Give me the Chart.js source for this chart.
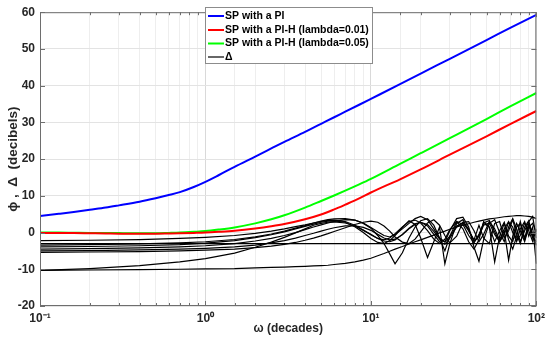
<!DOCTYPE html>
<html>
<head>
<meta charset="utf-8">
<script src="https://cdn.jsdelivr.net/npm/chart.js@4/dist/chart.umd.min.js"></script>
<style>
html,body{margin:0;padding:0;background:#fff;}
#wrap{position:relative;width:550px;height:339px;}
</style>
</head>
<body>
<div id="wrap"><canvas id="c" width="550" height="339"></canvas></div>
<script>
// ---- data ----
const omegaSmooth = [0.1,0.13,0.16,0.2,0.25,0.3,0.4,0.5,0.6,0.7,0.85,1,1.2,1.5,2,2.5,3,4,5,6,7,8.5,10,15,20,30,50,70,100];
const spPI    = [4.5,5.1,5.6,6.2,6.8,7.4,8.4,9.35,10.2,11.0,12.4,13.8,15.6,17.9,20.7,22.9,24.7,27.4,29.6,31.4,32.9,34.8,36.4,40.4,43.3,47.3,52.4,55.8,59.3];
const spPIH01 = [-0.1,-0.1,-0.15,-0.2,-0.25,-0.3,-0.3,-0.3,-0.25,-0.2,-0.1,0,0.2,0.5,1.1,1.7,2.3,3.6,4.9,6.3,7.6,9.3,10.9,14.5,17.2,21.2,26.2,29.6,33.1];
const spPIH05 = [0,0,-0.05,-0.1,-0.1,-0.15,-0.2,-0.2,-0.1,0,0.2,0.4,0.8,1.4,2.5,3.6,4.7,6.8,8.6,10.1,11.4,13.1,14.6,18.7,21.6,25.7,30.9,34.4,38.0];

const omega = [0.1,0.2,0.4,0.7,1,1.5,2,2.5,3,3.5,4,4.5,5,5.5,6,7,8,9,10,11,12,13,14,15.5,17,18.5,20,22,24,26,28,30,33,36,39,42,45,48,52,56,60,64,68,72,76,80,85,90,95,100];
const deltaFlat = [-3,-3,-3,-3,-3,-3,-3,-3,-3,-3,-3,-3,-3,-3,-3,-3,-3,-3,-3,-3,-3,-3,-3,-3,-3,-3,-3,-3,-3,-3,-3,-3,-3,-3,-3,-3,-3,-3,-3,-3,-3,-3,-3,-3,-3,-3,-3,-3,-3,-3];
const deltaA = [-10.3,-10.2,-10.1,-10.0,-9.9,-9.8,-9.6,-9.5,-9.4,-9.3,-9.2,-9.1,-9.0,-8.9,-8.7,-8.4,-8.0,-7.5,-7.0,-6.3,-5.7,-5.1,-4.5,-3.8,-3.1,-2.5,-2.0,-1.3,-0.7,-0.1,0.4,0.9,1.5,2.0,2.4,2.8,3.1,3.4,3.7,3.9,4.1,4.3,4.4,4.5,4.6,4.6,4.5,4.4,4.2,3.8];
const deltaB = [-10.3,-9.8,-9.0,-8.0,-7.1,-5.6,-4.0,-2.6,-1.3,-0.1,1.0,2.0,2.5,2.8,2.9,2.6,1.8,0.6,-0.5,-1.6,-2.3,-2.5,-2.0,-0.5,1.2,2.4,2.8,1.8,-0.5,-2.5,-3.2,-1.5,1.5,2.8,1.0,-2.5,-1.0,2.5,1.5,-2.5,0.5,2.8,-1.0,-2.5,1.5,2.5,-2.0,2.0,-1.5,1.0];
const deltaG1 = [-2.2,-2.1,-1.9,-1.6,-1.3,-0.8,-0.2,0.4,1.0,1.6,2.1,2.6,3.0,3.3,3.4,3.0,2.0,0.7,-0.6,-1.6,-2.0,-1.5,-0.3,1.5,3.0,3.4,2.6,0.5,-1.8,-3.0,-1.8,0.8,3.0,2.2,-0.8,-2.8,-0.5,2.6,3.3,0.2,-2.5,-0.5,2.8,1.5,-2.2,-0.8,2.6,0.5,-2.4,0.8];
const deltaG2 = [-3.4,-3.3,-3.1,-2.8,-2.5,-1.9,-1.2,-0.4,0.4,1.2,1.9,2.6,3.1,3.5,3.7,3.8,3.4,2.5,1.2,-0.8,-3.0,-5.8,-8.5,-5.5,-1.5,1.5,3.2,3.8,2.0,-1.5,-5.0,-1.0,3.0,1.0,-2.5,-4.5,-2.0,3.0,1.5,-8.0,-1.0,2.5,-2.0,-4.5,-1.0,3.0,-1.5,2.5,-0.5,-3.5];
const deltaG3 = [-3.9,-3.8,-3.6,-3.3,-2.9,-2.2,-1.4,-0.6,0.2,1.0,1.7,2.3,2.8,3.1,3.2,2.8,1.6,0.0,-1.6,-2.7,-3.0,-2.2,-0.8,1.4,3.2,2.2,-1.5,-6.8,-2.5,1.5,-8.5,-3.0,2.5,3.5,0.5,-2.0,2.0,-1.5,-3.0,2.5,3.0,-1.5,0.5,3.5,-0.5,-3.0,1.5,3.2,-1.0,-2.5];
const deltaG4 = [-4.5,-4.4,-4.2,-3.9,-3.6,-3.0,-2.3,-1.6,-0.8,0.0,0.8,1.5,2.1,2.6,3.0,3.5,3.4,2.6,1.4,0.2,-0.8,-1.2,-0.5,1.0,2.5,3.8,4.4,3.5,1.0,-1.5,-2.5,0.5,3.8,4.2,1.5,-4.0,-7.8,-2.0,2.5,3.5,0.0,-2.5,1.5,3.8,1.0,-2.5,0.5,3.0,4.4,-1.5];
const deltaG5 = [-5.0,-4.9,-4.7,-4.5,-4.3,-3.9,-3.4,-2.8,-2.2,-1.5,-0.8,-0.2,0.4,0.9,1.3,1.8,1.8,1.4,0.6,-0.5,-1.5,-2.0,-1.8,-0.6,1.0,2.2,2.8,2.2,0.3,-1.8,-2.6,-1.0,1.8,2.6,0.5,-2.2,-1.0,2.0,2.6,-0.5,-2.5,0.5,-7.5,-1.0,2.5,0.5,-2.5,1.5,2.5,0.0];
const deltaG6 = [-5.4,-5.3,-5.2,-5.0,-4.8,-4.5,-4.1,-3.7,-3.2,-2.7,-2.1,-1.5,-0.9,-0.3,0.3,1.3,2.2,2.8,3.1,2.8,1.8,0.4,-1.2,-2.6,-3.0,-1.8,0.2,2.6,3.5,2.0,-0.8,-2.8,-1.0,2.8,3.0,0.5,-2.5,-0.5,3.0,1.0,-2.0,1.0,3.0,0.0,-2.5,1.0,3.0,-1.0,1.5,-8.5];

const xTickLabels = {0.1:'10\u207B\u00B9', 1:'10\u2070', 10:'10\u00B9', 100:'10\u00B2'};
const seriesNames = ['SP with a PI','SP with a PI-H (lambda=0.01)','SP with a PI-H (lambda=0.05)','\u0394'];
const seriesColors = ['#0000ff','#ff0000','#00ff00','#000000'];

// ---- build datasets ----
function pts(xs, ys){ return xs.map((x,i)=>({x:x,y:ys[i]})); }
const blackSets = [deltaFlat, deltaA, deltaB, deltaG1, deltaG2, deltaG3, deltaG4, deltaG5, deltaG6];
const datasets = [];
datasets.push({label:seriesNames[0], data:pts(omegaSmooth, spPI), borderColor:seriesColors[0], borderWidth:2, cubicInterpolationMode:'monotone'});
datasets.push({label:seriesNames[1], data:pts(omegaSmooth, spPIH01), borderColor:seriesColors[1], borderWidth:2, cubicInterpolationMode:'monotone'});
datasets.push({label:seriesNames[2], data:pts(omegaSmooth, spPIH05), borderColor:seriesColors[2], borderWidth:2, cubicInterpolationMode:'monotone'});
blackSets.forEach((s,i)=>{
  datasets.push({label: i===0 ? seriesNames[3] : '\u0394 '+(i+1), data:pts(omega, s), borderColor:'#000', borderWidth:1.2, tension:0});
});

const FONT = '"Liberation Sans", Arial, sans-serif';

const framePlugin = {
  id:'frame',
  afterDraw(chart){
    const ctx = chart.ctx, a = chart.chartArea;
    ctx.save();
    ctx.strokeStyle = '#6e6e6e'; ctx.lineWidth = 1;
    ctx.strokeRect(a.left+0.5, a.top+0.5, a.right-a.left-1, a.bottom-a.top-1);
    const xs = chart.scales.x, ys = chart.scales.y;
    ctx.beginPath();
    xs.ticks.forEach(t=>{
      const px = Math.round(xs.getPixelForValue(t.value))+0.5;
      const major = xTickLabels[t.value] !== undefined;
      const len = major ? 5 : 3;
      ctx.moveTo(px, a.bottom); ctx.lineTo(px, a.bottom-len);
      ctx.moveTo(px, a.top); ctx.lineTo(px, a.top+len);
    });
    ys.ticks.forEach(t=>{
      const py = Math.round(ys.getPixelForValue(t.value))+0.5;
      ctx.moveTo(a.left, py); ctx.lineTo(a.left+5, py);
      ctx.moveTo(a.right, py); ctx.lineTo(a.right-5, py);
    });
    ctx.stroke();
    // legend
    const lx = 205, ly = 7, lw = 167, lh = 56;
    ctx.fillStyle = '#fff';
    ctx.fillRect(lx, ly, lw, lh);
    ctx.strokeStyle = '#8c8c8c';
    ctx.strokeRect(lx+0.5, ly+0.5, lw, lh);
    ctx.font = 'bold 10.5px ' + FONT;
    ctx.textBaseline = 'middle';
    ctx.textAlign = 'left';
    const rows = [16, 30, 43.5, 57];
    seriesNames.forEach((n,i)=>{
      ctx.strokeStyle = seriesColors[i];
      ctx.lineWidth = i===3 ? 1.2 : 2;
      ctx.beginPath(); ctx.moveTo(208, rows[i]); ctx.lineTo(224, rows[i]); ctx.stroke();
      ctx.fillStyle = '#000';
      ctx.fillText(n, 225, rows[i]);
    });
    ctx.restore();
  }
};

new Chart(document.getElementById('c'), {
  type:'line',
  data:{datasets:datasets},
  options:{
    responsive:false,
    animation:false,
    layout:{padding:{top:8, right:12, left:0, bottom:0}},
    elements:{point:{radius:0}, line:{fill:false}},
    plugins:{legend:{display:false}, tooltip:{enabled:false}},
    scales:{
      x:{
        type:'logarithmic', min:0.1, max:100,
        border:{display:false},
        grid:{
          color:(c)=> (c.tick && xTickLabels[c.tick.value]!==undefined) ? '#d9d9d9' : '#eeeeee',
          drawTicks:false
        },
        ticks:{
          autoSkip:false, maxRotation:0, padding:5,
          color:'#262626', font:{family:FONT, size:12, weight:'bold'},
          callback:(v)=> xTickLabels[v] !== undefined ? xTickLabels[v] : ''
        },
        title:{display:true, text:'\u03C9 (decades)', color:'#262626', font:{family:FONT, size:12, weight:'bold'}, padding:{top:0,bottom:3}},
        afterFit:(s)=>{ s.height = 33; }
      },
      y:{
        min:-20, max:60,
        border:{display:false},
        grid:{color:'#e3e3e3', drawTicks:false},
        ticks:{stepSize:10, padding:5, color:'#262626', font:{family:FONT, size:12, weight:'bold'}},
        title:{display:true, text:'\u03D5 ,  \u0394  (decibels)', color:'#262626', font:{family:FONT, size:13.5, weight:'bold'}, padding:{top:5,bottom:0}},
        afterFit:(s)=>{ s.width = 40; }
      }
    }
  },
  plugins:[framePlugin]
});
</script>
</body>
</html>
